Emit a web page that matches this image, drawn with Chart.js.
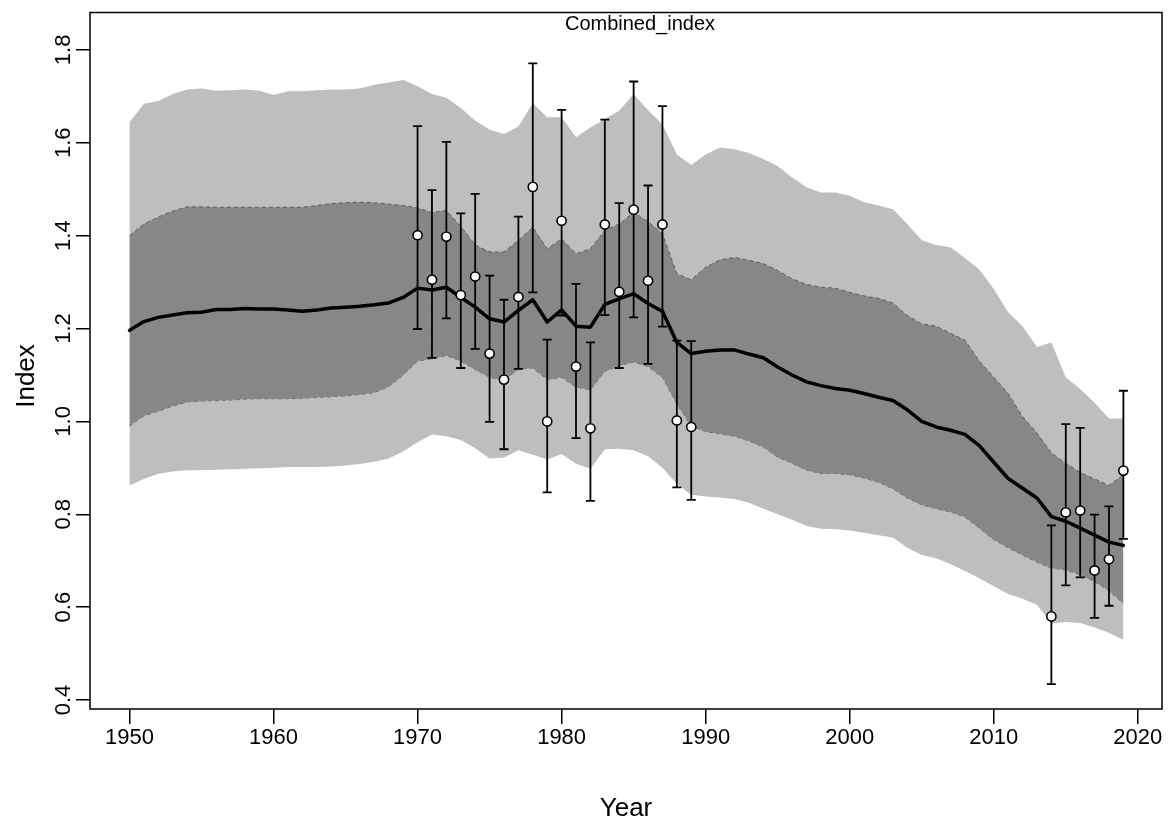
<!DOCTYPE html>
<html>
<head>
<meta charset="utf-8">
<script src="https://cdn.jsdelivr.net/npm/chart.js@4.4.1/dist/chart.umd.min.js"></script>
<style>
  html, body { margin: 0; padding: 0; background: #fff; }
</style>
</head>
<body>
<canvas id="graficoIndice" width="1172" height="823"></canvas>
<script>
// anos da serie modelada
const anos = [
  1950, 1951, 1952, 1953, 1954, 1955, 1956, 1957, 1958, 1959,
  1960, 1961, 1962, 1963, 1964, 1965, 1966, 1967, 1968, 1969,
  1970, 1971, 1972, 1973, 1974, 1975, 1976, 1977, 1978, 1979,
  1980, 1981, 1982, 1983, 1984, 1985, 1986, 1987, 1988, 1989,
  1990, 1991, 1992, 1993, 1994, 1995, 1996, 1997, 1998, 1999,
  2000, 2001, 2002, 2003, 2004, 2005, 2006, 2007, 2008, 2009,
  2010, 2011, 2012, 2013, 2014, 2015, 2016, 2017, 2018, 2019,
];

// linha central (indice estimado)
const indice = [
  1.196, 1.215, 1.224, 1.229, 1.234, 1.235, 1.241, 1.241, 1.243, 1.242,
  1.242, 1.240, 1.237, 1.240, 1.244, 1.246, 1.248, 1.251, 1.255, 1.267,
  1.287, 1.283, 1.289, 1.267, 1.246, 1.221, 1.214, 1.239, 1.262, 1.214,
  1.240, 1.205, 1.203, 1.252, 1.264, 1.275, 1.254, 1.237, 1.170, 1.146,
  1.151, 1.154, 1.154, 1.145, 1.137, 1.117, 1.100, 1.085, 1.077, 1.071,
  1.067, 1.060, 1.052, 1.045, 1.025, 1.000, 0.988, 0.981, 0.972, 0.948,
  0.912, 0.877, 0.856, 0.835, 0.795, 0.785, 0.770, 0.755, 0.740, 0.733,
];

// faixa externa (cinza claro)
const externoSup = [
  1.644, 1.684, 1.690, 1.705, 1.715, 1.717, 1.712, 1.713, 1.715, 1.712,
  1.703, 1.711, 1.711, 1.713, 1.715, 1.715, 1.717, 1.725, 1.730, 1.735,
  1.722, 1.705, 1.697, 1.675, 1.648, 1.628, 1.619, 1.635, 1.685, 1.655,
  1.655, 1.612, 1.633, 1.651, 1.669, 1.705, 1.670, 1.640, 1.575, 1.552,
  1.575, 1.590, 1.586, 1.578, 1.565, 1.550, 1.525, 1.504, 1.493, 1.493,
  1.486, 1.472, 1.465, 1.457, 1.425, 1.390, 1.380, 1.375, 1.352, 1.327,
  1.285, 1.235, 1.205, 1.160, 1.170, 1.095, 1.070, 1.040, 1.006, 1.006,
];
const externoInf = [
  0.862, 0.876, 0.887, 0.892, 0.895, 0.895, 0.896, 0.897, 0.898, 0.899,
  0.900, 0.902, 0.902, 0.902, 0.903, 0.905, 0.908, 0.913, 0.920, 0.935,
  0.955, 0.972, 0.968, 0.960, 0.942, 0.920, 0.922, 0.938, 0.928, 0.918,
  0.930, 0.909, 0.898, 0.940, 0.941, 0.938, 0.925, 0.900, 0.865, 0.842,
  0.838, 0.836, 0.833, 0.825, 0.812, 0.800, 0.788, 0.775, 0.769, 0.768,
  0.765, 0.760, 0.755, 0.750, 0.728, 0.712, 0.705, 0.693, 0.678, 0.662,
  0.645, 0.628, 0.618, 0.605, 0.565, 0.568, 0.566, 0.556, 0.545, 0.529,
];

// faixa interna (cinza escuro)
const internoSup = [
  1.400, 1.425, 1.440, 1.453, 1.462, 1.462, 1.461, 1.461, 1.461, 1.461,
  1.461, 1.461, 1.461, 1.465, 1.469, 1.471, 1.472, 1.471, 1.468, 1.465,
  1.460, 1.450, 1.454, 1.420, 1.380, 1.365, 1.365, 1.390, 1.418, 1.372,
  1.393, 1.361, 1.372, 1.411, 1.425, 1.450, 1.430, 1.404, 1.318, 1.305,
  1.332, 1.348, 1.353, 1.347, 1.340, 1.325, 1.307, 1.295, 1.289, 1.287,
  1.278, 1.270, 1.265, 1.255, 1.228, 1.210, 1.205, 1.190, 1.175, 1.130,
  1.095, 1.060, 1.010, 0.975, 0.932, 0.910, 0.890, 0.876, 0.862, 0.885,
];
const internoInf = [
  0.990, 1.012, 1.022, 1.033, 1.042, 1.044, 1.045, 1.046, 1.048, 1.049,
  1.049, 1.049, 1.050, 1.052, 1.053, 1.055, 1.058, 1.062, 1.075, 1.100,
  1.130, 1.135, 1.142, 1.130, 1.112, 1.095, 1.088, 1.113, 1.115, 1.090,
  1.095, 1.074, 1.068, 1.108, 1.120, 1.128, 1.118, 1.095, 1.038, 0.990,
  0.978, 0.973, 0.968, 0.958, 0.945, 0.923, 0.910, 0.895, 0.888, 0.888,
  0.885, 0.878, 0.869, 0.855, 0.835, 0.820, 0.812, 0.805, 0.794, 0.770,
  0.745, 0.728, 0.712, 0.697, 0.684, 0.680, 0.670, 0.655, 0.635, 0.608,
];

// observacoes com intervalo
const anosObs = [
  1970, 1971, 1972, 1973, 1974, 1975, 1976, 1977, 1978, 1979,
  1980, 1981, 1982, 1983, 1984, 1985, 1986, 1987, 1988, 1989,
  2014, 2015, 2016, 2017, 2018, 2019,
];
const obs = [
  1.401, 1.305, 1.398, 1.272, 1.312, 1.146, 1.090, 1.268, 1.505, 1.000,
  1.432, 1.118, 0.985, 1.424, 1.279, 1.456, 1.303, 1.424, 1.002, 0.988,
  0.580, 0.804, 0.808, 0.679, 0.703, 0.894,
];
const obsSup = [
  1.636, 1.498, 1.602, 1.448, 1.490, 1.314, 1.262, 1.441, 1.771, 1.176,
  1.671, 1.296, 1.170, 1.650, 1.470, 1.732, 1.508, 1.679, 1.174, 1.173,
  0.776, 0.994, 0.986, 0.799, 0.817, 1.066,
];
const obsInf = [
  1.199, 1.137, 1.222, 1.115, 1.156, 0.999, 0.940, 1.113, 1.278, 0.847,
  1.228, 0.964, 0.829, 1.229, 1.115, 1.224, 1.124, 1.204, 0.858, 0.831,
  0.434, 0.647, 0.664, 0.577, 0.603, 0.747,
];

const ticksX = [1950, 1960, 1970, 1980, 1990, 2000, 2010, 2020];
const ticksY = [0.4, 0.6, 0.8, 1.0, 1.2, 1.4, 1.6, 1.8];
const titulo = "Combined_index";

const fonte = "'Liberation Sans', Arial, sans-serif";
Chart.defaults.font.family = fonte;
Chart.defaults.color = "#000";

function pares(xs, ys) {
  let saida = [];
  for (let i = 0; i < xs.length; i++) {
    saida.push({ x: xs[i], y: ys[i] });
  }
  return saida;
}

// barras de erro: segmento vertical + quebra
let barrasErro = [];
for (let i = 0; i < anosObs.length; i++) {
  barrasErro.push({ x: anosObs[i], y: obsInf[i] });
  barrasErro.push({ x: anosObs[i], y: obsSup[i] });
  barrasErro.push({ x: anosObs[i], y: null });
}

// moldura do grafico + titulos em texto
const moldura = {
  id: "moldura",
  afterDraw(chart) {
    const { ctx, chartArea: a } = chart;
    ctx.save();
    ctx.strokeStyle = "#000";
    ctx.lineWidth = 1.5;
    ctx.strokeRect(a.left, a.top, a.right - a.left, a.bottom - a.top);
    ctx.fillStyle = "#000";
    ctx.textAlign = "center";
    ctx.textBaseline = "middle";
    ctx.font = "20px " + fonte;
    ctx.fillText(titulo, 640, a.top + 12);
    ctx.translate(27, 376);
    ctx.rotate(-Math.PI / 2);
    ctx.font = "26px " + fonte;
    ctx.fillText("Index", 0, 0);
    ctx.restore();
  },
};

new Chart(document.getElementById("graficoIndice"), {
  type: "line",
  data: {
    datasets: [
      {
        data: pares(anos, externoSup),
        fill: { target: 1, above: "#bebebe", below: "#bebebe" },
        borderWidth: 0,
        pointRadius: 0,
        order: 4,
      },
      {
        data: pares(anos, externoInf),
        fill: false,
        borderWidth: 0,
        pointRadius: 0,
        order: 4,
      },
      {
        data: pares(anos, internoSup),
        fill: { target: 3, above: "#878787", below: "#878787" },
        borderColor: "#5e5e5e",
        borderWidth: 1,
        borderDash: [4, 3], // borda tracejada
        pointRadius: 0,
        order: 3,
      },
      {
        data: pares(anos, internoInf),
        fill: false,
        borderColor: "#5e5e5e",
        borderWidth: 1,
        borderDash: [4, 3],
        pointRadius: 0,
        order: 3,
      },
      {
        data: pares(anos, indice),
        fill: false,
        borderColor: "#000",
        borderWidth: 3.5,
        borderJoinStyle: "round",
        borderCapStyle: "round",
        pointRadius: 0,
        order: 2,
      },
      {
        data: barrasErro,
        fill: false,
        spanGaps: false,
        borderColor: "#000",
        borderWidth: 1.8,
        pointStyle: "line",
        pointRadius: 4.5,
        pointBorderColor: "#000",
        pointBorderWidth: 1.8,
        order: 1,
      },
      {
        data: pares(anosObs, obs),
        showLine: false,
        fill: false,
        pointStyle: "circle",
        pointRadius: 4.6,
        pointBackgroundColor: "#fff",
        pointBorderColor: "#000",
        pointBorderWidth: 1.6,
        order: 0,
      },
    ],
  },
  plugins: [moldura],
  options: {
    responsive: false,
    animation: false,
    devicePixelRatio: 1,
    layout: { padding: { top: 12.5, right: 10, left: 0, bottom: 0 } },
    plugins: {
      legend: { display: false },
      tooltip: { enabled: false },
    },
    scales: {
      x: {
        type: "linear",
        min: 1947.26,
        max: 2021.68,
        afterBuildTicks: function (s) {
          s.ticks = ticksX.map((v) => ({ value: v }));
        },
        afterFit: function (s) {
          s.height = 114;
        },
        grid: { drawOnChartArea: false, drawTicks: true, tickLength: 15, color: "#000", lineWidth: 1.5 },
        border: { display: false },
        ticks: {
          font: { size: 22 },
          color: "#000",
          padding: 1,
          maxRotation: 0,
          autoSkip: false,
          callback: (v) => String(v),
        },
        title: {
          display: true,
          text: "Year",
          font: { size: 26, lineHeight: 1 },
          color: "#000",
          padding: { top: 0, bottom: 1 },
        },
      },
      y: {
        type: "linear",
        min: 0.3806,
        max: 1.8806,
        afterBuildTicks: function (s) {
          s.ticks = ticksY.map((v) => ({ value: v }));
        },
        afterFit: function (s) {
          s.width = 90;
        },
        grid: { drawOnChartArea: false, drawTicks: true, tickLength: 14, color: "#000", lineWidth: 1.5 },
        border: { display: false },
        ticks: {
          font: { size: 22 },
          color: "#000",
          padding: -3,
          minRotation: 90,
          maxRotation: 90,
          crossAlign: "center",
          autoSkip: false,
          callback: (v) => v.toFixed(1),
        },
      },
    },
  },
});
</script>
</body>
</html>
